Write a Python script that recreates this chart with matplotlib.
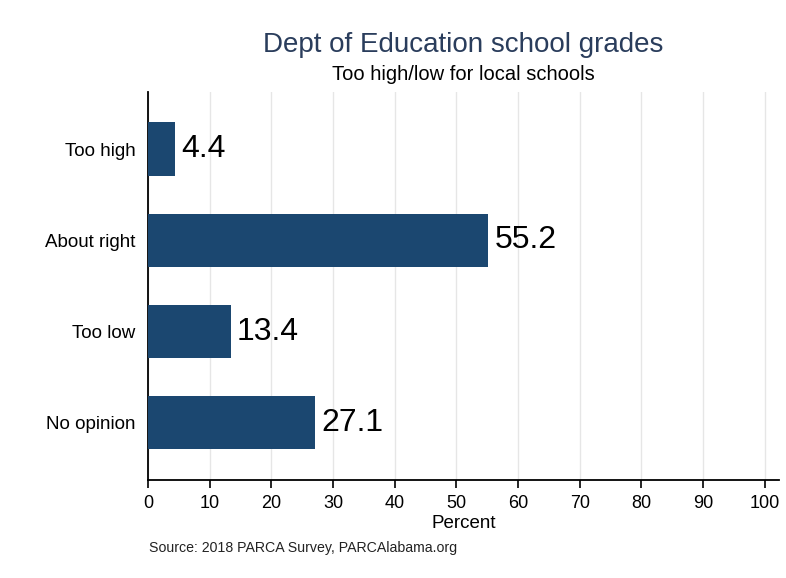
import matplotlib
matplotlib.use('Agg')
import matplotlib.pyplot as plt

plt.rcParams['font.family'] = ['Liberation Sans', 'DejaVu Sans']

# Survey responses (percent)
categories = ['Too high', 'About right', 'Too low', 'No opinion']
values = [4.4, 55.2, 13.4, 27.1]
x_ticks = list(range(0, 101, 10))

bar_color = '#1b4770'
title_color = '#2a3d5c'

fig = plt.figure(figsize=(7.86, 5.78), dpi=100)
ax = fig.add_axes([0.1883, 0.1696, 0.8028, 0.6713])

pos = list(range(len(categories)))
ax.barh(pos, values, height=0.59, color=bar_color, zorder=3)
for p, v in zip(pos, values):
    ax.text(v + 1.0, p, f'{v}', va='center', ha='left', fontsize=23, color='black')

ax.set_ylim(3.63, -0.63)
ax.set_xlim(0, 102.3)
ax.set_yticks(pos)
ax.set_yticklabels(categories, fontsize=13.5)
ax.set_xticks(x_ticks)
ax.set_xticklabels([str(t) for t in x_ticks], fontsize=13)
ax.tick_params(axis='y', length=0, pad=9)
ax.tick_params(axis='x', length=6, width=1.2, direction='out', pad=5)

ax.grid(axis='x', color='#e6e6e6', linewidth=1, zorder=0)
ax.spines['top'].set_visible(False)
ax.spines['right'].set_visible(False)
ax.spines['left'].set_linewidth(1.3)
ax.spines['bottom'].set_linewidth(1.3)

ax.set_xlabel('Percent', fontsize=13.5, labelpad=2)

fig.text(0.589, 0.923, 'Dept of Education school grades', ha='center', va='center',
         fontsize=20, color=title_color)
fig.text(0.589, 0.871, 'Too high/low for local schools', ha='center', va='center',
         fontsize=14.5, color='black')
fig.text(0.189, 0.052, 'Source: 2018 PARCA Survey, PARCAlabama.org', ha='left', va='center',
         fontsize=10.2, color='#222222')

fig.savefig('out.png', dpi=100)
